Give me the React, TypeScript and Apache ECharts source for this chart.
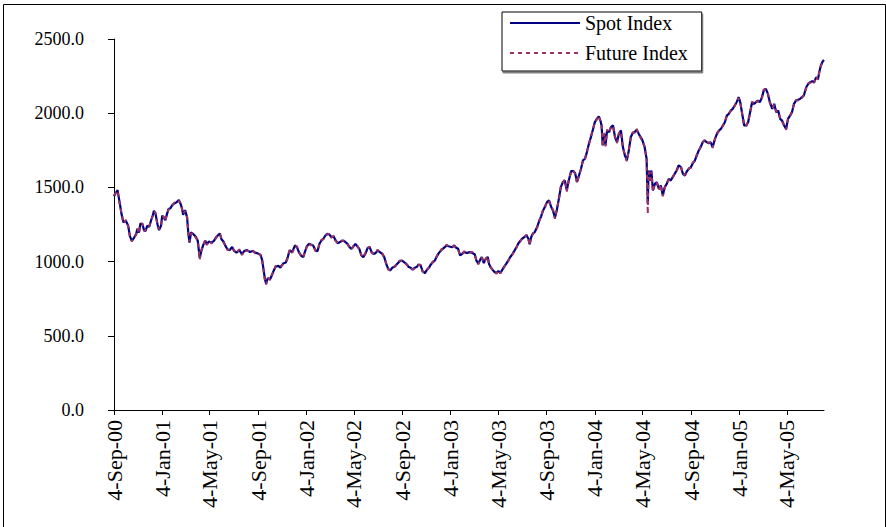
import React, { useEffect, useRef } from "react";
import * as echarts from "echarts";

const dates: string[] = [
  "2000-09-04","2000-09-13","2000-09-19","2000-09-23","2000-09-28","2000-10-04","2000-10-10","2000-10-14","2000-10-19","2000-10-25",
  "2000-10-30","2000-11-02","2000-11-06","2000-11-10","2000-11-15","2000-11-19","2000-11-23","2000-11-27","2000-12-02","2000-12-07",
  "2000-12-11","2000-12-14","2000-12-18","2000-12-23","2000-12-27","2001-01-01","2001-01-04","2001-01-08","2001-01-12","2001-01-16",
  "2001-01-20","2001-01-25","2001-01-30","2001-02-04","2001-02-09","2001-02-15","2001-02-19","2001-02-23","2001-02-26","2001-03-03",
  "2001-03-08","2001-03-11","2001-03-14","2001-03-18","2001-03-24","2001-03-30","2001-04-04","2001-04-09","2001-04-13","2001-04-18",
  "2001-04-23","2001-04-27","2001-05-02","2001-05-09","2001-05-15","2001-05-20","2001-05-26","2001-05-30","2001-06-03","2001-06-08",
  "2001-06-13","2001-06-18","2001-06-24","2001-06-30","2001-07-05","2001-07-11","2001-07-18","2001-07-25","2001-07-31","2001-08-07",
  "2001-08-14","2001-08-21","2001-08-27","2001-09-04","2001-09-10","2001-09-14","2001-09-18","2001-09-21","2001-09-24","2001-09-28",
  "2001-10-04","2001-10-09","2001-10-13","2001-10-18","2001-10-25","2001-10-30","2001-11-06","2001-11-13","2001-11-17","2001-11-21",
  "2001-11-23","2001-11-29","2001-12-06","2001-12-11","2001-12-16","2001-12-21","2001-12-27","2001-12-31","2002-01-05","2002-01-10",
  "2002-01-15","2002-01-21","2002-01-27","2002-02-01","2002-02-06","2002-02-11","2002-02-16","2002-02-21","2002-02-26","2002-03-03",
  "2002-03-08","2002-03-14","2002-03-19","2002-03-24","2002-03-29","2002-04-03","2002-04-08","2002-04-13","2002-04-18","2002-04-23",
  "2002-04-28","2002-05-03","2002-05-08","2002-05-13","2002-05-18","2002-05-23","2002-05-28","2002-06-03","2002-06-08","2002-06-13",
  "2002-06-18","2002-06-23","2002-06-28","2002-07-03","2002-07-09","2002-07-15","2002-07-20","2002-07-25","2002-07-30","2002-08-04",
  "2002-08-09","2002-08-16","2002-08-22","2002-08-28","2002-09-03","2002-09-08","2002-09-14","2002-09-20","2002-09-25","2002-09-30",
  "2002-10-05","2002-10-10","2002-10-15","2002-10-20","2002-10-25","2002-10-31","2002-11-05","2002-11-10","2002-11-15","2002-11-20",
  "2002-11-25","2002-11-30","2002-12-05","2002-12-12","2002-12-18","2002-12-25","2003-01-01","2003-01-08","2003-01-13","2003-01-18",
  "2003-01-23","2003-01-28","2003-02-02","2003-02-07",
  "2003-02-15","2003-02-21","2003-02-28","2003-03-06","2003-03-10","2003-03-15","2003-03-20","2003-03-24","2003-03-29","2003-04-03",
  "2003-04-08","2003-04-11","2003-04-15","2003-04-20","2003-04-25","2003-04-30","2003-05-05","2003-05-10","2003-05-15","2003-05-20",
  "2003-05-25","2003-05-30","2003-06-04","2003-06-09","2003-06-14","2003-06-19","2003-06-24","2003-06-29","2003-07-04","2003-07-10",
  "2003-07-15","2003-07-20","2003-07-23","2003-07-27","2003-07-31","2003-08-05","2003-08-11","2003-08-16","2003-08-21","2003-08-26",
  "2003-08-31","2003-09-05","2003-09-10","2003-09-15","2003-09-20","2003-09-25","2003-09-30","2003-10-05","2003-10-10","2003-10-15",
  "2003-10-20","2003-10-25","2003-10-30","2003-11-05","2003-11-10","2003-11-15","2003-11-20","2003-11-25","2003-11-30","2003-12-05",
  "2003-12-10","2003-12-15","2003-12-20","2003-12-25","2003-12-30","2004-01-04","2004-01-09","2004-01-14","2004-01-18","2004-01-21",
  "2004-01-24","2004-01-28","2004-01-31","2004-02-04","2004-02-09","2004-02-14","2004-02-19","2004-02-24","2004-02-29","2004-03-05",
  "2004-03-10","2004-03-15","2004-03-20","2004-03-25","2004-03-30","2004-04-04","2004-04-09","2004-04-14","2004-04-19","2004-04-24",
  "2004-05-03","2004-05-09","2004-05-14","2004-05-17","2004-05-19","2004-05-23","2004-05-26","2004-05-30","2004-06-04","2004-06-09",
  "2004-06-14","2004-06-19","2004-06-24","2004-06-29","2004-07-04","2004-07-09","2004-07-14","2004-07-19","2004-07-24","2004-07-29",
  "2004-08-03","2004-08-09","2004-08-14","2004-08-19","2004-08-24","2004-08-29","2004-09-03","2004-09-08","2004-09-13","2004-09-18",
  "2004-09-23","2004-09-28","2004-10-03","2004-10-08","2004-10-13","2004-10-18","2004-10-23","2004-10-28","2004-11-03","2004-11-08",
  "2004-11-13","2004-11-18","2004-11-23","2004-11-28","2004-12-03","2004-12-08","2004-12-13","2004-12-18","2004-12-23","2004-12-28",
  "2005-01-02","2005-01-06","2005-01-11","2005-01-16","2005-01-21","2005-01-26","2005-01-31","2005-02-05","2005-02-10","2005-02-15",
  "2005-02-20","2005-02-25","2005-03-02","2005-03-07","2005-03-12","2005-03-17","2005-03-22","2005-03-28","2005-04-02","2005-04-07",
  "2005-04-12","2005-04-17","2005-04-22","2005-04-27","2005-05-02","2005-05-07","2005-05-12","2005-05-17","2005-05-22","2005-05-27",
  "2005-06-01","2005-06-06","2005-06-11","2005-06-16","2005-06-22","2005-06-27","2005-07-02","2005-07-07","2005-07-12","2005-07-17",
  "2005-07-22","2005-07-25","2005-07-29","2005-08-03","2005-08-06",
];

const spotIndex: number[] = [
  1440,1482,1387,1320,1264,1275,1241,1173,1140,1162,
  1185,1219,1196,1257,1252,1212,1207,1241,1234,1279,
  1309,1342,1324,1252,1212,1241,1309,1297,1279,1320,
  1354,1360,1383,1392,1399,1415,1392,1360,1315,1347,
  1297,1196,1128,1196,1185,1167,1140,1023,1072,1113,
  1140,1117,1135,1128,1140,1162,1180,1189,1151,1135,
  1106,1083,1077,1099,1072,1061,1077,1050,1072,1077,
  1065,1072,1061,1054,1045,1009,938,881,851,888,
  881,910,938,965,971,960,987,994,1023,1061,
  1075,1064,1109,1097,1064,1041,1030,1064,1102,1120,
  1115,1109,1075,1070,1120,1142,1154,1176,1187,1183,
  1165,1169,1142,1124,1131,1138,1142,1131,1120,1097,
  1086,1102,1120,1102,1086,1041,1030,1057,1093,1097,
  1064,1052,1057,1075,1064,1052,1030,985,951,940,
  958,967,985,1003,1007,996,985,963,958,945,
  958,963,981,974,936,922,945,958,981,996,
  1007,1034,1057,1079,1093,1109,1102,1097,1109,1093,
  1086,1041,1052,1064,
  1058,1065,1058,1049,1008,986,1013,1031,990,1020,
  1031,986,963,946,930,923,937,923,946,968,
  986,1008,1031,1049,1071,1094,1121,1139,1154,1166,
  1177,1154,1116,1166,1188,1199,1233,1273,1305,1345,
  1372,1401,1413,1372,1345,1296,1350,1424,1502,1536,
  1547,1480,1547,1610,1610,1597,1536,1581,1626,1682,
  1693,1738,1794,1839,1888,1940,1962,1978,1951,1918,
  1783,1861,1783,1884,1873,1906,1918,1839,1805,1861,
  1884,1772,1716,1682,1749,1839,1866,1873,1888,1861,
  1820,1771,1692,1389,1614,1546,1614,1479,1524,1535,
  1490,1513,1445,1502,1524,1558,1546,1569,1591,1614,
  1648,1636,1591,1580,1609,1625,1636,1663,1681,1715,
  1749,1771,1805,1816,1805,1798,1805,1771,1827,1861,
  1883,1894,1917,1939,1984,1995,2018,2029,2052,2074,
  2108,2074,1995,1917,1917,1939,2007,2074,2063,2074,
  2085,2074,2108,2157,2164,2130,2074,2029,2063,2007,
  2018,1962,1950,1917,1894,1962,1984,2007,2063,2085,
  2090,2096,2108,2119,2175,2197,2209,2215,2209,2242,
  2231,2276,2321,2350,2359,
];

const futureIndex: number[] = [
  1446,1478,1380,1326,1258,1281,1236,1178,1135,1168,
  1180,1224,1190,1251,1258,1206,1213,1236,1240,1272,
  1315,1336,1330,1246,1218,1236,1302,1303,1272,1326,
  1348,1366,1378,1398,1393,1409,1398,1354,1321,1341,
  1303,1190,1135,1190,1191,1161,1146,1015,1078,1107,
  1146,1111,1141,1122,1146,1156,1186,1183,1157,1129,
  1112,1077,1083,1093,1078,1055,1083,1044,1078,1071,
  1071,1078,1055,1060,1039,1015,930,875,845,894,
  875,916,932,971,965,966,981,1000,1017,1067,
  1081,1058,1104,1103,1060,1047,1026,1070,1097,1126,
  1110,1114,1070,1076,1115,1147,1150,1181,1183,1188,
  1160,1174,1138,1129,1127,1143,1138,1136,1115,1102,
  1081,1107,1116,1107,1081,1046,1026,1062,1089,1102,
  1059,1057,1053,1080,1060,1057,1025,990,946,945,
  954,972,980,1008,1003,1001,980,968,953,950,
  954,968,977,979,931,927,941,963,977,1001,
  1003,1039,1053,1084,1089,1114,1098,1102,1105,1098,
  1081,1046,1048,1069,
  1063,1060,1064,1044,1013,981,1019,1026,995,1015,
  1036,981,968,941,935,918,942,919,951,963,
  991,1003,1036,1044,1076,1089,1126,1134,1159,1161,
  1182,1149,1110,1171,1183,1204,1228,1279,1300,1351,
  1366,1407,1408,1366,1351,1288,1356,1418,1508,1530,
  1553,1472,1553,1604,1616,1591,1528,1587,1620,1688,
  1687,1744,1788,1845,1882,1946,1956,1984,1945,1924,
  1775,1867,1776,1890,1867,1912,1912,1845,1798,1867,
  1878,1765,1722,1676,1755,1833,1872,1867,1894,1855,
  1814,1776,1687,1322,1605,1552,1607,1470,1530,1529,
  1484,1519,1440,1497,1530,1552,1551,1563,1597,1609,
  1643,1641,1586,1585,1603,1630,1631,1669,1676,1721,
  1744,1776,1800,1821,1800,1803,1800,1766,1822,1866,
  1878,1899,1912,1944,1979,2000,2013,2034,2047,2079,
  2102,2079,1990,1922,1912,1944,2001,2079,2058,2079,
  2080,2079,2102,2162,2158,2135,2068,2034,2057,2012,
  2013,1967,1944,1922,1888,1967,1979,2012,2057,2090,
  2085,2101,2102,2124,2169,2202,2203,2220,2204,2247,
  2225,2281,2315,2355,2352,
];

const tickDates: string[] = [
  "2000-09-04","2001-01-04","2001-05-04","2001-09-04","2002-01-04","2002-05-04","2002-09-04","2003-01-04",
  "2003-05-04","2003-09-04","2004-01-04","2004-05-04","2004-09-04","2005-01-04","2005-05-04",
];
const tickLabels: string[] = [
  "4-Sep-00","4-Jan-01","4-May-01","4-Sep-01","4-Jan-02","4-May-02","4-Sep-02","4-Jan-03",
  "4-May-03","4-Sep-03","4-Jan-04","4-May-04","4-Sep-04","4-Jan-05","4-May-05",
];

const yTicks = { min: 0, max: 2500, step: 500 };
const seriesNames = ["Spot Index", "Future Index"];

const FONT = '"Liberation Serif", "Times New Roman", serif';

function dayOf(s: string): number {
  const [y, m, d] = s.split("-").map(Number);
  const base = Date.UTC(2000, 8, 4);
  return Math.round((Date.UTC(y, m - 1, d) - base) / 86400000);
}

export default function App() {
  const ref = useRef<HTMLDivElement>(null);
  useEffect(() => {
    if (!ref.current) return;
    const chart = echarts.init(ref.current, undefined, { renderer: "svg" });
    const days = dates.map(dayOf);
    const tickDays = tickDates.map(dayOf);
    const n = Math.min(days.length, spotIndex.length, futureIndex.length);
    const spotData: number[][] = [];
    const futData: number[][] = [];
    for (let i = 0; i < n; i++) {
      spotData.push([days[i], spotIndex[i]]);
      futData.push([days[i], futureIndex[i]]);
    }
    const lastDay = days[n - 1];
    chart.setOption({
      animation: false,
      backgroundColor: "#ffffff",
      grid: { left: 114, right: 62, top: 39, bottom: 117 },
      legend: {
        data: seriesNames,
        orient: "vertical",
        left: 502,
        top: 12,
        itemWidth: 70,
        itemHeight: 14,
        itemGap: 10,
        padding: [1, 14, 8, 7],
        borderColor: "#000",
        borderWidth: 1,
        backgroundColor: "#fff",
        shadowColor: "#808080",
        shadowOffsetX: 1,
        shadowOffsetY: 2,
        shadowBlur: 0,
        selectedMode: false,
        itemStyle: { opacity: 0 },
        textStyle: { fontFamily: FONT, fontSize: 20, color: "#000", lineHeight: 20 },
      },
      xAxis: {
        type: "value",
        min: 0,
        max: lastDay,
        splitLine: { show: false },
        axisLine: { show: true, onZero: false, lineStyle: { color: "#000", width: 1 } },
        axisTick: { show: true, customValues: tickDays, length: 5, lineStyle: { color: "#000" } },
        axisLabel: {
          customValues: tickDays,
          rotate: 90,
          margin: 10,
          fontFamily: FONT,
          fontSize: 22,
          color: "#000",
          formatter: (v: number) => {
            const i = tickDays.findIndex((d) => Math.abs(d - v) < 0.5);
            return i >= 0 ? tickLabels[i] : "";
          },
        },
      },
      yAxis: {
        type: "value",
        min: yTicks.min,
        max: yTicks.max,
        interval: yTicks.step,
        splitLine: { show: false },
        axisLine: { show: true, lineStyle: { color: "#000", width: 1 } },
        axisTick: { show: true, length: 6, lineStyle: { color: "#000" } },
        axisLabel: {
          margin: 30,
          fontFamily: FONT,
          fontSize: 18,
          color: "#000",
          formatter: (v: number) => v.toFixed(1),
        },
      },
      series: [
        {
          name: seriesNames[0],
          type: "line",
          data: spotData,
          symbol: "none",
          showSymbol: false,
          lineStyle: { color: "#000080", width: 2.2 },
          itemStyle: { color: "#000080" },
        },
        {
          name: seriesNames[1],
          type: "line",
          data: futData,
          symbol: "none",
          showSymbol: false,
          lineStyle: { color: "#993366", width: 2, type: [4, 4] },
          itemStyle: { color: "#993366" },
        },
      ],
      graphic: [
        {
          type: "rect",
          left: 1,
          top: 2,
          shape: { x: 0, y: 0, width: 882, height: 523 },
          style: { fill: "none", stroke: "#000", lineWidth: 1 },
          silent: true,
        },
      ],
    });
    return () => chart.dispose();
  }, []);
  return (
    <div
      ref={ref}
      style={{ position: "absolute", left: 0, top: 0, width: 886, height: 527 }}
    />
  );
}
